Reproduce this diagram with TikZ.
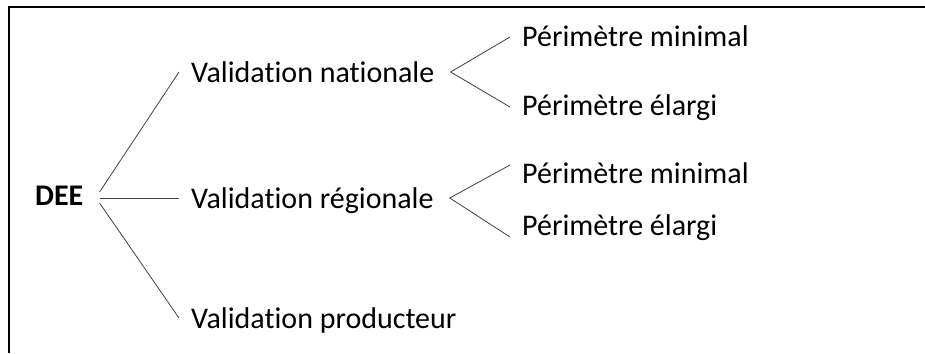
\documentclass[tikz,border=0pt]{standalone}
\usepackage{fontspec}
\setmainfont{Carlito}[RawFeature=-liga]
\usetikzlibrary{calc}
\begin{document}
\begin{tikzpicture}[x=1pt,y=-1pt,
  lbl/.style={inner xsep=12pt, inner ysep=0pt, text height=20pt, text depth=0pt,
              font=\fontsize{30}{36}\selectfont},
  link/.style={draw=black!75, line width=0.8pt}]
  \useasboundingbox (0,0) rectangle (925,353);
  % open frame: top and left edges only
  \draw[line width=1.4pt] (9,353) -- (9,7) -- (925,7);

  % root
  \node[lbl, font=\fontsize{30}{36}\selectfont\bfseries, anchor=base west, inner xsep=0pt] (dee) at (35,205) {DEE};
  \coordinate (deeout) at ($(dee.east)+(16,3)$);

  % first level
  \node[lbl, anchor=base west, xshift=-12pt] (nat)  at (191,82)  {Validation nationale};
  \node[lbl, anchor=base west, xshift=-12pt] (reg)  at (191,208) {Validation régionale};
  \node[lbl, anchor=base west, xshift=-12pt] (prod) at (191,328) {Validation producteur};

  % second level
  \node[lbl, anchor=base west, xshift=-12pt] (p1min) at (522,47)  {Périmètre minimal};
  \node[lbl, anchor=base west, xshift=-12pt] (p1el)  at (522,115) {Périmètre élargi};
  \node[lbl, anchor=base west, xshift=-12pt] (p2min) at (522,183) {Périmètre minimal};
  \node[lbl, anchor=base west, xshift=-12pt] (p2el)  at (522,235) {Périmètre élargi};

  % connectors from the root
  \draw[link] ([yshift=6pt]deeout) -- (nat.west);
  \draw[link] (deeout) -- (reg.west |- deeout);
  \draw[link] ([yshift=-5pt]deeout) -- (prod.west);

  % forks to the perimeters
  \draw[link] (p1min.west) -- ([xshift=4pt]nat.east) -- ([yshift=-2pt]p1el.west);
  \draw[link] ([yshift=8pt]p2min.west) -- ([xshift=4pt]reg.east) -- ([yshift=-12pt]p2el.west);
\end{tikzpicture}
\end{document}
